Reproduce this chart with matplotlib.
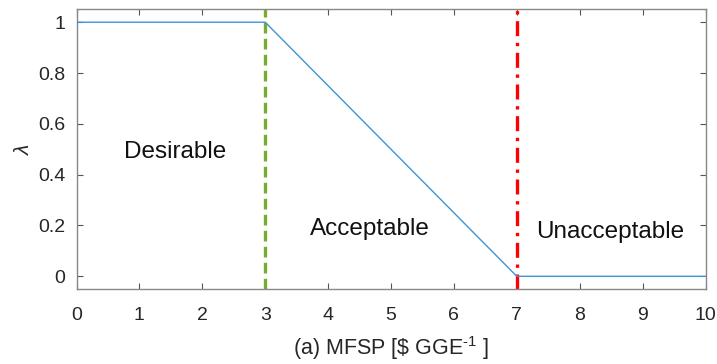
import matplotlib
matplotlib.use("Agg")
import matplotlib.pyplot as plt

plt.rcParams['font.family'] = ['Liberation Sans', 'DejaVu Sans']
plt.rcParams['mathtext.fontset'] = 'custom'
plt.rcParams['mathtext.rm'] = 'Liberation Sans'
plt.rcParams['mathtext.it'] = 'Liberation Sans:italic'

# Membership function for MFSP
mfsp = [0, 3, 7, 10]
lam = [1, 1, 0, 0]
desirable_limit = 3
acceptable_limit = 7
xticks = list(range(0, 11))
yticks = [0, 0.2, 0.4, 0.6, 0.8, 1]
ytick_labels = ['0', '0.2', '0.4', '0.6', '0.8', '1']
region_labels = ['Desirable', 'Acceptable', 'Unacceptable']
region_x = [1.57, 4.66, 8.48]
region_y = [0.49, 0.185, 0.175]

fig = plt.figure(figsize=(7.17, 3.64), dpi=100)
ax = fig.add_axes([76.5 / 717, 1 - 289 / 364, (705.5 - 76.5) / 717, (289 - 9.5) / 364])

ax.plot(mfsp, lam, color='#3E95D6', lw=1.0, zorder=3)
ax.axvline(desirable_limit, color='#77AC30', lw=2.4, ls=(0, (3.2, 1.6)), zorder=2)
ax.axvline(acceptable_limit, color='#FF0000', lw=2.4, ls=(0, (4.5, 2.0, 1.0, 2.0)), zorder=2)

for lbl, x, y in zip(region_labels, region_x, region_y):
    ax.text(x, y, lbl, ha='center', va='center', fontsize=17.5, color='#111111')

ax.set_xlim(0, 10)
ax.set_ylim(-0.05, 1.05)
ax.set_xticks(xticks)
ax.set_yticks(yticks)
ax.set_yticklabels(ytick_labels)
ax.tick_params(direction='in', top=True, right=True, length=4, width=0.8,
               colors='#555555', labelcolor='#262626', labelsize=14)
ax.tick_params(axis='x', pad=13)
ax.tick_params(axis='y', pad=8)
for s in ax.spines.values():
    s.set_color('#888888')
    s.set_linewidth(1.0)

ax.set_xlabel(r'(a) MFSP [\$ GGE$^{\text{-1}}$ ]', fontsize=15.5, color='#262626', labelpad=7)
ax.set_ylabel(r'$\lambda$', fontsize=15, color='#262626', labelpad=4)

fig.savefig('out.png', dpi=100)
